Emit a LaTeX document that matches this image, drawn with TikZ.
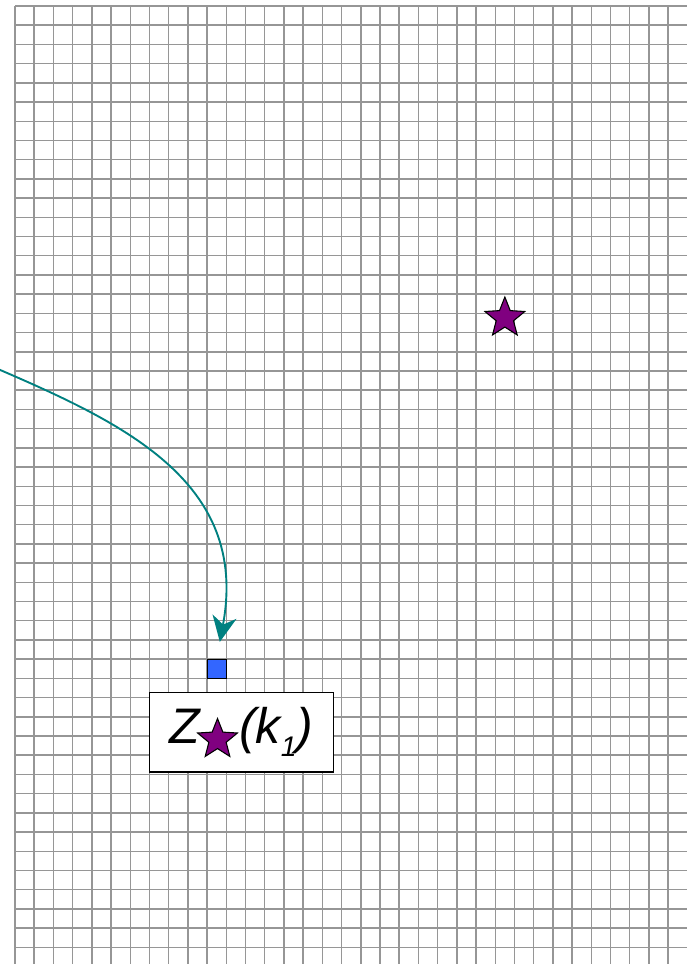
\documentclass[tikz,border=0pt]{standalone}
\usepackage{fontspec}
\setmainfont{Liberation Sans}
\usetikzlibrary{shapes.geometric,arrows.meta}
\definecolor{gridc}{HTML}{969696}
\definecolor{starc}{HTML}{800080}
\definecolor{cellc}{HTML}{3366FF}
\definecolor{flowc}{HTML}{008080}
\tikzset{
  gridline/.style={gridc,line width=1.1pt},
  starmark/.style={star,star points=5,star point ratio=2.3,minimum size=31pt,
    inner sep=0pt,fill=starc,draw=black,line width=0.8pt},
  cellmark/.style={rectangle,minimum size=0.5cm,inner sep=0pt,fill=cellc,
    draw=black,line width=0.8pt},
  labelbox/.style={rectangle,draw=black,fill=white,line width=1pt,inner sep=0pt,
    minimum width=4.79cm,minimum height=2.07cm,font=\fontsize{37}{40}\selectfont\itshape},
  flowarrow/.style={flowc,line width=1.4pt,
    -{Stealth[length=19pt,width=18pt,inset=6pt]},shorten >=12.6pt}
}

\begin{document}
\begin{tikzpicture}[x=0.5cm,y=-0.5cm]
  \useasboundingbox (-0.781,-0.312) rectangle (34.98,49.87);
  \clip (-0.781,-0.312) rectangle (34.98,49.87);
  % background grid, one line per cell
  \foreach \i in {0,...,34}
    \draw[gridline] (\i,0) -- (\i,49.87);
  \foreach \j in {0,...,49}
    \draw[gridline] (0,\j) -- (34.98,\j);
  % star on the grid
  \node[starmark] (refstar) at (25.5,16.24) {};
  % marked cell and its label
  \node[cellmark] (cell) at (10.5,34.5) {};
  \node[labelbox] (lbl) at (11.78,37.8)
    {Z\kern-2pt\tikz[baseline=-3pt]\node[starmark] (zstar) {};\kern1pt(k\raisebox{-9.6pt}{\fontsize{21}{21}\selectfont 1})};
  % incoming arrow
  \coordinate (from) at (-1.30,18.72);
  \draw[flowarrow] (from) .. controls (5.47,21.63) and (12.23,24.67) .. (cell.north);
\end{tikzpicture}
\end{document}
